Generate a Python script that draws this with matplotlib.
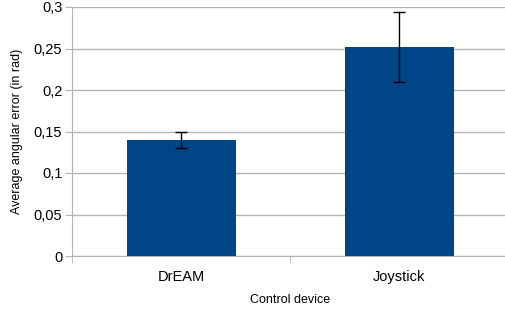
import matplotlib
matplotlib.use("Agg")
from matplotlib import pyplot as plt
from matplotlib.ticker import FuncFormatter

devices = ["DrEAM", "Joystick"]
mean_error = [0.14, 0.252]
err_error = [0.01, 0.042]
y_ticks = [0, 0.05, 0.1, 0.15, 0.2, 0.25, 0.3]

plt.rcParams['font.family'] = ['Liberation Sans', 'DejaVu Sans']

fig = plt.figure(figsize=(5.05, 3.15), dpi=100)
ax = fig.add_axes([72 / 505, 59 / 315, 436 / 505, 249 / 315])

x = list(range(len(devices)))
ax.bar(x, mean_error, width=0.5, color="#004586", zorder=3)
ax.errorbar(x, mean_error, yerr=err_error, fmt="none", ecolor="black",
            elinewidth=1, capsize=4, capthick=1, zorder=4)

ax.set_xlim(-0.5, 1.5)
ax.set_ylim(0, 0.3)
ax.set_yticks(y_ticks)
ax.yaxis.set_major_formatter(FuncFormatter(lambda v, p: ("%g" % v).replace(".", ",")))
ax.set_xticks(x)
ax.set_xticklabels(devices)
ax.set_xticks([-0.5, 0.5, 1.5], minor=True)

ax.grid(axis="y", color="#b3b3b3", linewidth=1, zorder=0)
for s in ["top", "right"]:
    ax.spines[s].set_visible(False)
ax.spines["left"].set_color("#b3b3b3")
ax.spines["bottom"].set_color("#b3b3b3")
ax.tick_params(axis="y", length=5, color="#b3b3b3", labelsize=10.5, pad=2)
ax.tick_params(axis="x", which="major", length=0, labelsize=10.5, pad=10)
ax.tick_params(axis="x", which="minor", length=5, color="#b3b3b3")

ax.set_xlabel("Control device", fontsize=9, labelpad=7)
ax.set_ylabel("Average angular error (in rad)", fontsize=9, labelpad=8)

fig.savefig("out.png", dpi=100)
